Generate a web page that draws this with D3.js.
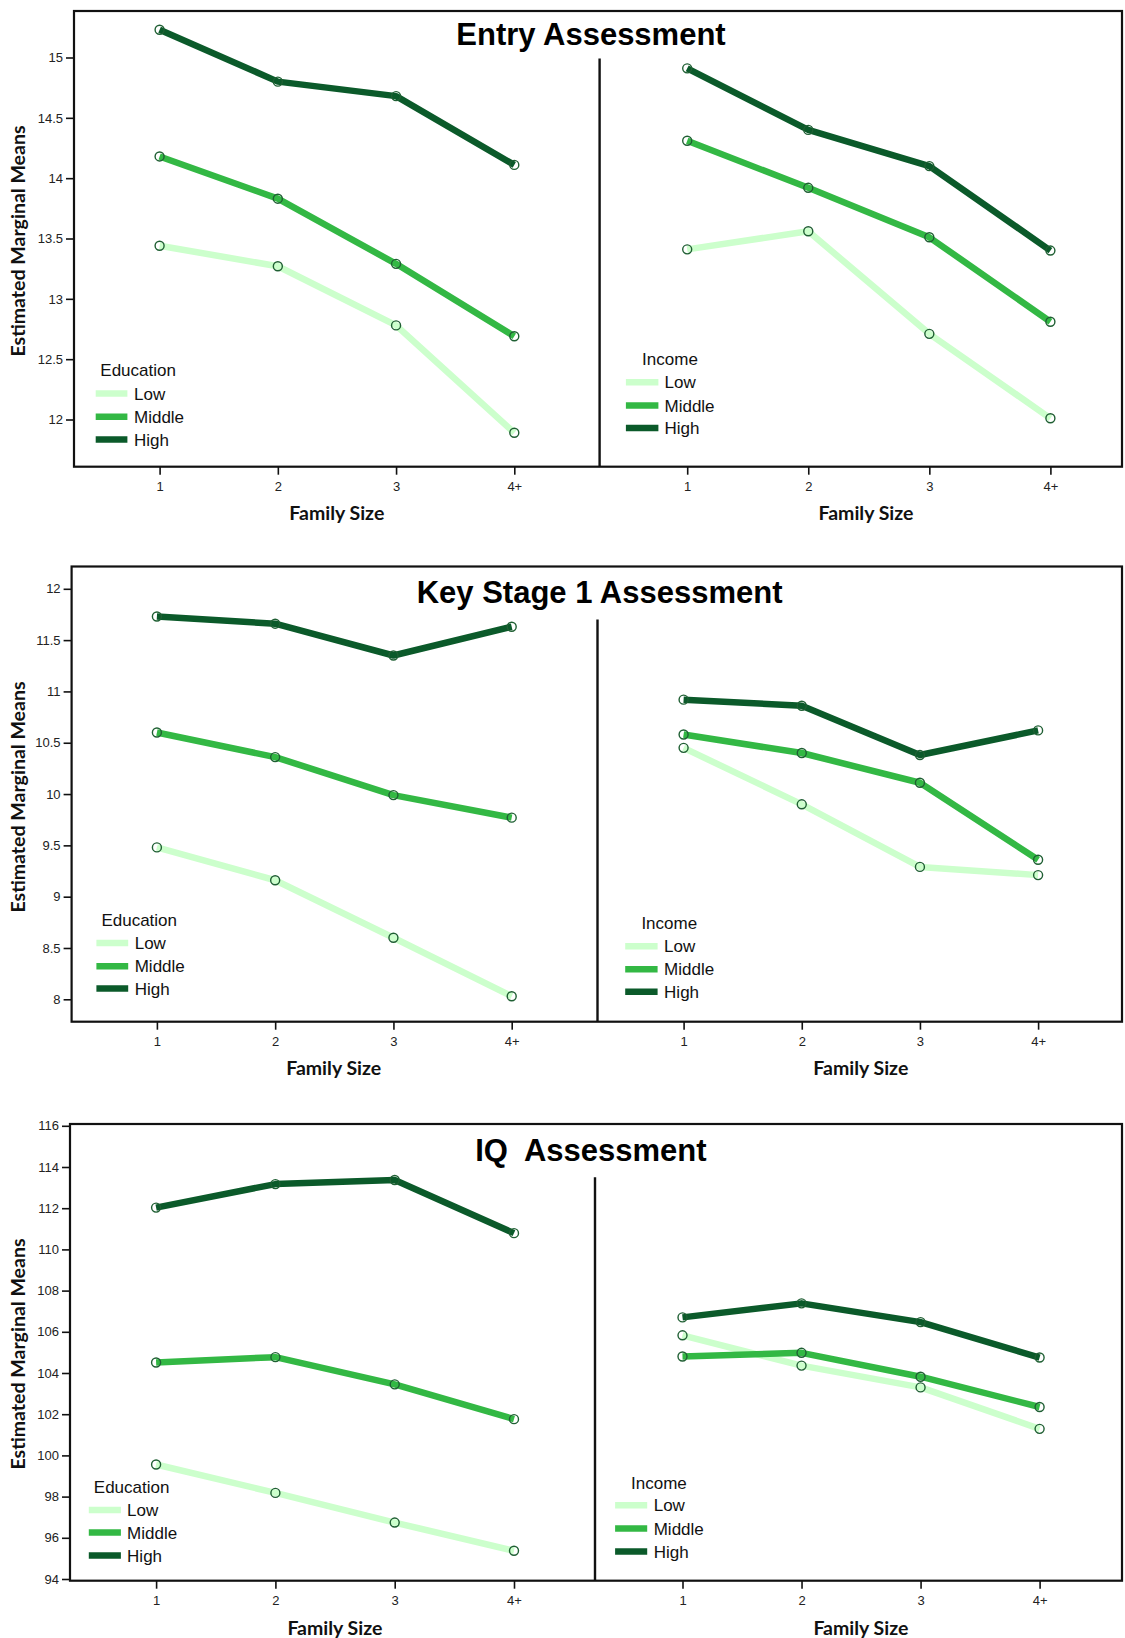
<!DOCTYPE html>
<html><head><meta charset="utf-8">
<script src="https://cdn.jsdelivr.net/npm/d3@7"></script>
<style>body{margin:0;background:#fff}svg{display:block}</style>
</head><body><svg id="c" width="1125" height="1638"></svg>
<script>
// ---------- DATA ----------
const familySizes = ["1", "2", "3", "4+"];
const levels = ["Low", "Middle", "High"];
const panelTitles = ["Entry Assessment", "Key Stage 1 Assessment", "IQ  Assessment"];
const groupNames = ["Education", "Income"];

const entryTicks = [12, 12.5, 13, 13.5, 14, 14.5, 15];
const ks1Ticks = [8, 8.5, 9, 9.5, 10, 10.5, 11, 11.5, 12];
const iqTicks = [94, 96, 98, 100, 102, 104, 106, 108, 110, 112, 114, 116];

// rows: Low, Middle, High ; columns: family size 1,2,3,4+
const entryEducation = [
  [13.44, 13.27, 12.78, 11.89],
  [14.18, 13.83, 13.29, 12.69],
  [15.23, 14.80, 14.68, 14.11]
];
const entryIncome = [
  [13.41, 13.56, 12.71, 12.01],
  [14.31, 13.92, 13.51, 12.81],
  [14.91, 14.40, 14.10, 13.40]
];
const ks1Education = [
  [9.48, 9.16, 8.60, 8.03],
  [10.60, 10.36, 9.99, 9.77],
  [11.73, 11.66, 11.35, 11.63]
];
const ks1Income = [
  [10.45, 9.90, 9.29, 9.21],
  [10.58, 10.40, 10.11, 9.36],
  [10.92, 10.86, 10.38, 10.62]
];
const iqEducation = [
  [99.56, 98.18, 96.74, 95.37],
  [104.51, 104.77, 103.45, 101.76],
  [112.03, 113.17, 113.37, 110.79]
];
const iqIncome = [
  [105.83, 104.36, 103.30, 101.29],
  [104.80, 104.98, 103.82, 102.35],
  [106.70, 107.38, 106.47, 104.75]
];

// ---------- STYLE / LAYOUT ----------
const levelColors = ["#ccffcc", "#33b844", "#0b5a2a"];
const markerStroke = "#1f5f33";
const svg = d3.select("#c");

const panels = [
  {
    title: panelTitles[0], titleX: 591, titleY: 44.8,
    box: {l: 74, t: 11, r: 1122, b: 466.7}, div: {x: 599.6, t: 58.5},
    yDom: [12, 15], yRng: [419.5, 57.5], ticks: entryTicks, fmt: d3.format("~g"),
    xl: [159.6, 514.3], xr: [687.2, 1050.4],
    famY: 513.2, famX: [336.8, 866], yLabY: 241,
    data: [entryEducation, entryIncome],
    legends: [
      {tx: 100.3, ty: 370.2, s1: 95.7, s2: 127.4, rows: [393.6, 416.7, 439.5], lx: 134},
      {tx: 642.1, ty: 359.2, s1: 625.9, s2: 658.4, rows: [382.3, 405.4, 428.1], lx: 664.5}
    ]
  },
  {
    title: panelTitles[1], titleX: 599.6, titleY: 603.2,
    box: {l: 71.6, t: 566.5, r: 1122, b: 1021.7}, div: {x: 597.5, t: 619.4},
    yDom: [8, 12], yRng: [999.3, 588.8], ticks: ks1Ticks, fmt: d3.format("~g"),
    xl: [156.9, 511.7], xr: [683.6, 1038.1],
    famY: 1068.2, famX: [333.7, 860.8], yLabY: 797,
    data: [ks1Education, ks1Income],
    legends: [
      {tx: 101.4, ty: 919.4, s1: 96.4, s2: 128.2, rows: [943.1, 966.2, 988.6], lx: 134.7},
      {tx: 641.4, ty: 922.8, s1: 625.2, s2: 657.6, rows: [946.2, 969.3, 991.7], lx: 664.1}
    ]
  },
  {
    title: panelTitles[2], titleX: 590.9, titleY: 1161,
    box: {l: 70, t: 1124, r: 1122, b: 1580.7}, div: {x: 595, t: 1177.3},
    yDom: [94, 116], yRng: [1579, 1125.8], ticks: iqTicks, fmt: d3.format("d"),
    xl: [156.1, 514], xr: [682.5, 1039.6],
    famY: 1628.5, famX: [334.9, 860.9], yLabY: 1354,
    data: [iqEducation, iqIncome],
    legends: [
      {tx: 93.8, ty: 1487.1, s1: 88.8, s2: 120.9, rows: [1510, 1532.6, 1555.5], lx: 127.1},
      {tx: 631, ty: 1482.4, s1: 615.1, s2: 647.2, rows: [1505.3, 1528.5, 1551.4], lx: 653.7}
    ]
  }
];

panels.forEach(p => {
  const g = svg.append("g");
  const y = d3.scaleLinear().domain(p.yDom).range(p.yRng);
  const xs = [
    d3.scalePoint().domain(familySizes).range(p.xl),
    d3.scalePoint().domain(familySizes).range(p.xr)
  ];

  // y axis ticks
  const ya = g.append("g").attr("transform", `translate(${p.box.l},0)`)
    .call(d3.axisLeft(y).tickValues(p.ticks).tickFormat(p.fmt).tickSize(8).tickPadding(3));
  ya.select(".domain").remove();
  ya.selectAll("line").attr("stroke", "#111").attr("stroke-width", 1.6);
  ya.selectAll("text").attr("font-family", "Liberation Sans, Arial, sans-serif")
    .attr("font-size", 13).attr("fill", "#222");

  // x axes ticks
  xs.forEach(x => {
    const xa = g.append("g").attr("transform", `translate(0,${p.box.b})`)
      .call(d3.axisBottom(x).tickSize(8).tickPadding(7.5));
    xa.select(".domain").remove();
    xa.selectAll("line").attr("stroke", "#111").attr("stroke-width", 1.6);
    xa.selectAll("text").attr("font-family", "Liberation Sans, Arial, sans-serif")
      .attr("font-size", 13).attr("fill", "#222");
  });

  // frame
  g.append("rect").attr("x", p.box.l).attr("y", p.box.t)
    .attr("width", p.box.r - p.box.l).attr("height", p.box.b - p.box.t)
    .attr("fill", "none").attr("stroke", "#111").attr("stroke-width", 2.2);
  // divider
  g.append("line").attr("x1", p.div.x).attr("x2", p.div.x)
    .attr("y1", p.div.t).attr("y2", p.box.b)
    .attr("stroke", "#111").attr("stroke-width", 2.4);

  // title
  g.append("text").attr("x", p.titleX).attr("y", p.titleY)
    .attr("text-anchor", "middle").attr("font-family", "Liberation Sans, Arial, sans-serif")
    .attr("font-weight", "bold").attr("font-size", 31).attr("fill", "#000")
    .style("white-space", "pre").text(p.title);

  // y label
  g.append("text").attr("transform", `translate(18.4,${p.yLabY}) rotate(-90)`)
    .attr("text-anchor", "middle").attr("dy", "0.36em")
    .attr("font-family", "Lato, Open Sans, sans-serif").attr("font-weight", "bold")
    .attr("font-size", 19).attr("textLength", 231).attr("lengthAdjust", "spacingAndGlyphs")
    .attr("fill", "#111").text("Estimated Marginal Means");

  // x labels
  p.famX.forEach(fx => {
    g.append("text").attr("x", fx).attr("y", p.famY).attr("dy", "0.36em")
      .attr("text-anchor", "middle")
      .attr("font-family", "Lato, Open Sans, sans-serif").attr("font-weight", "bold")
      .attr("font-size", 19).attr("textLength", 95).attr("lengthAdjust", "spacingAndGlyphs")
      .attr("fill", "#111").text("Family Size");
  });

  // series
  p.data.forEach((series, si) => {
    const x = xs[si];
    const line = d3.line().x((d, i) => x(familySizes[i])).y(d => y(d));
    series.forEach((vals, li) => {
      g.append("path").datum(vals).attr("d", line)
        .attr("fill", "none").attr("stroke", levelColors[li])
        .attr("stroke-width", 6.5).attr("stroke-linejoin", "round");
    });
    series.forEach((vals, li) => {
      g.selectAll(null).data(vals).enter().append("circle")
        .attr("cx", (d, i) => x(familySizes[i])).attr("cy", d => y(d)).attr("r", 4.5)
        .attr("fill", "none").attr("stroke", markerStroke).attr("stroke-width", 1.4);
    });

    // legend
    const L = p.legends[si];
    g.append("text").attr("x", L.tx).attr("y", L.ty).attr("dy", "0.36em")
      .attr("font-family", "Liberation Sans, Arial, sans-serif").attr("font-size", 17)
      .attr("fill", "#111").text(groupNames[si]);
    levels.forEach((lv, li) => {
      g.append("line").attr("x1", L.s1).attr("x2", L.s2)
        .attr("y1", L.rows[li]).attr("y2", L.rows[li])
        .attr("stroke", levelColors[li]).attr("stroke-width", 6.5);
      g.append("text").attr("x", L.lx).attr("y", L.rows[li]).attr("dy", "0.36em")
        .attr("font-family", "Liberation Sans, Arial, sans-serif").attr("font-size", 17)
        .attr("fill", "#111").text(lv);
    });
  });
});
</script>
</body></html>
